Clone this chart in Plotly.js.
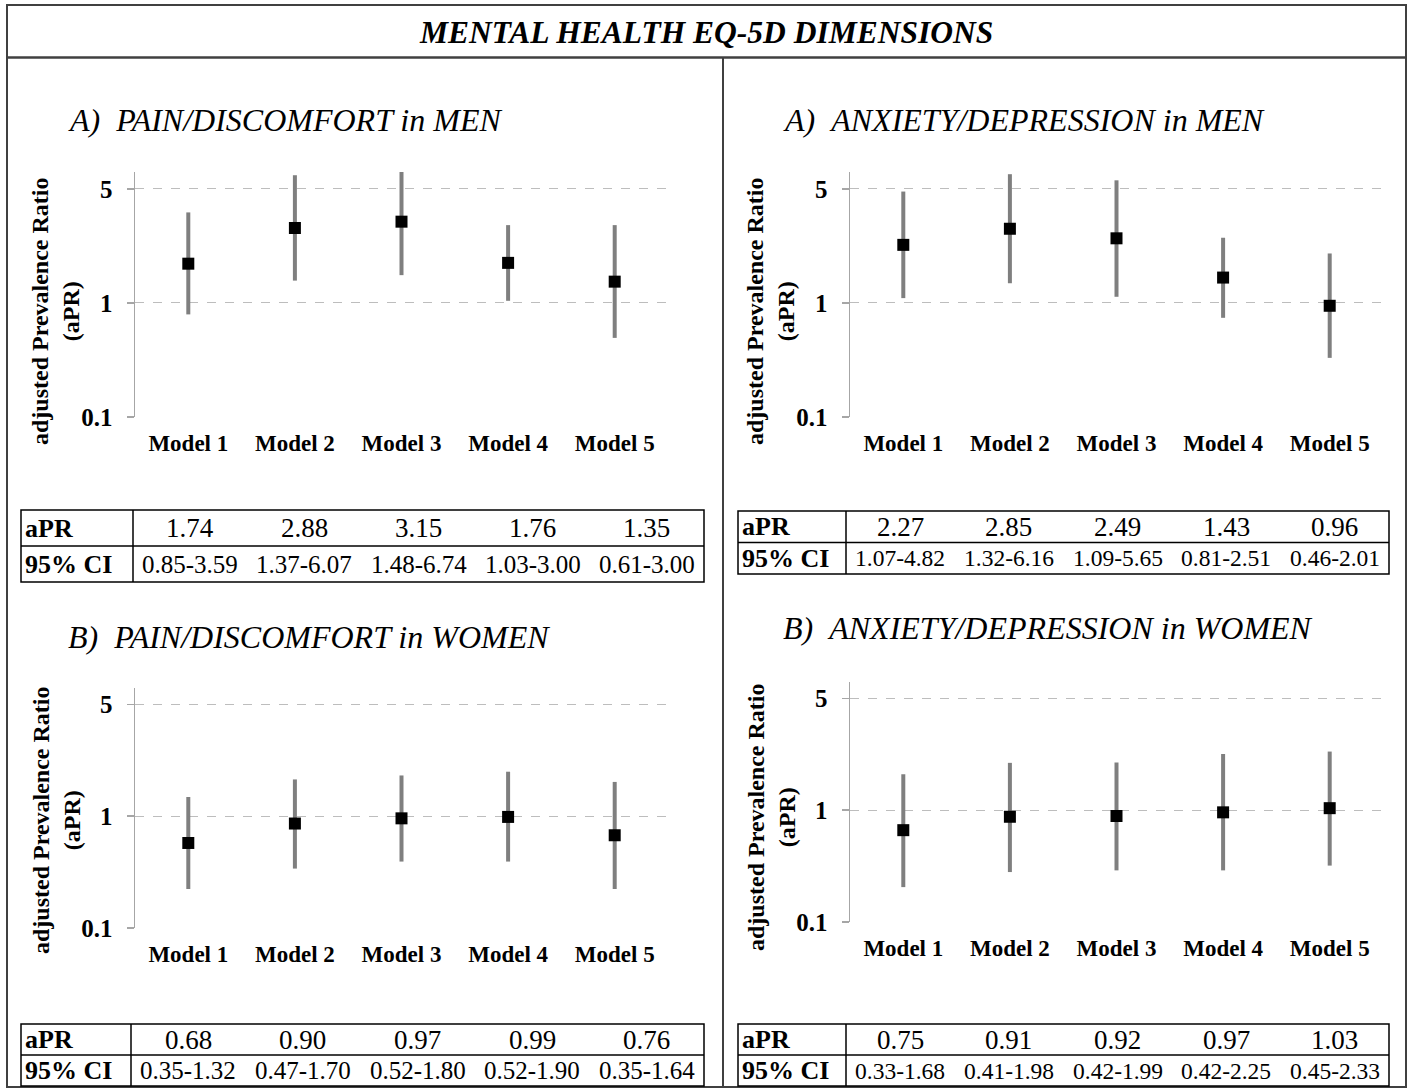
<!DOCTYPE html>
<html>
<head>
<meta charset="utf-8">
<script src="https://cdn.plot.ly/plotly-3.0.1.min.js"></script>
<style>html,body{margin:0;padding:0;background:#fff;}#chart{width:1409px;height:1089px;}</style>
</head>
<body>
<div id="chart"></div>
<script>
// ---------- DATA ----------
const models = ["Model 1", "Model 2", "Model 3", "Model 4", "Model 5"];
const tickVals = [0.2, 1, 5];
const tickText = ["0.1", "1", "5"];

const painMenAPR = [1.74, 2.88, 3.15, 1.76, 1.35];
const painMenLo  = [0.85, 1.37, 1.48, 1.03, 0.61];
const painMenHi  = [3.59, 6.07, 6.74, 3.00, 3.00];

const anxMenAPR = [2.27, 2.85, 2.49, 1.43, 0.96];
const anxMenLo  = [1.07, 1.32, 1.09, 0.81, 0.46];
const anxMenHi  = [4.82, 6.16, 5.65, 2.51, 2.01];

const painWomenAPR = [0.68, 0.90, 0.97, 0.99, 0.76];
const painWomenLo  = [0.35, 0.47, 0.52, 0.52, 0.35];
const painWomenHi  = [1.32, 1.70, 1.80, 1.90, 1.64];

const anxWomenAPR = [0.75, 0.91, 0.92, 0.97, 1.03];
const anxWomenLo  = [0.33, 0.41, 0.42, 0.42, 0.45];
const anxWomenHi  = [1.68, 1.98, 1.99, 2.25, 2.33];

const mainTitle = "MENTAL HEALTH EQ-5D DIMENSIONS";
const subTitles = ["A)\u00a0\u00a0PAIN/DISCOMFORT in MEN", "A)\u00a0\u00a0ANXIETY/DEPRESSION in MEN",
                   "B)\u00a0\u00a0PAIN/DISCOMFORT in WOMEN", "B)\u00a0\u00a0ANXIETY/DEPRESSION in WOMEN"];
const yTitle = "adjusted Prevalence Ratio<br>(aPR)";
const rowLabels = ["aPR", "95% CI"];

// ---------- LAYOUT HELPERS ----------
const W = 1409, H = 1089;
const px = x => x / W;
const py = y => 1 - y / H;
const SERIF = "Liberation Serif, Times New Roman, serif";

const panels = [
  {apr: painMenAPR, lo: painMenLo, hi: painMenHi, sub: subTitles[0],
   xd: [135, 668], yd: [172, 417], subX: 66, subY: 120, tX: 56, tY: 311, ciSize: 25,
   tb: {x0: 21, x1: 704, y0: 510, y1: 582, div: 133}},
  {apr: anxMenAPR, lo: anxMenLo, hi: anxMenHi, sub: subTitles[1],
   xd: [850, 1383], yd: [172, 417], subX: 781, subY: 120, tX: 771, tY: 311, ciSize: 23.5,
   tb: {x0: 738, x1: 1389, y0: 511, y1: 574, div: 846}},
  {apr: painWomenAPR, lo: painWomenLo, hi: painWomenHi, sub: subTitles[2],
   xd: [135, 668], yd: [688, 928], subX: 66, subY: 637, tX: 56, tY: 820, ciSize: 25,
   tb: {x0: 21, x1: 704, y0: 1024, y1: 1086, div: 131}},
  {apr: anxWomenAPR, lo: anxWomenLo, hi: anxWomenHi, sub: subTitles[3],
   xd: [850, 1383], yd: [682, 922], subX: 781, subY: 628, tX: 771, tY: 817, ciSize: 23.5,
   tb: {x0: 738, x1: 1389, y0: 1024, y1: 1086, div: 846}}
];

const traces = [];
const layout = {
  width: W, height: H,
  margin: {l: 0, r: 0, t: 0, b: 0},
  paper_bgcolor: "#ffffff", plot_bgcolor: "rgba(0,0,0,0)",
  showlegend: false,
  font: {family: SERIF, color: "#000"},
  shapes: [], annotations: []
};

const lineShape = (x0, y0, x1, y1, color, width) => ({
  type: "line", xref: "paper", yref: "paper",
  x0: px(x0), y0: py(y0), x1: px(x1), y1: py(y1),
  line: {color: color, width: width}, layer: "above"
});

// Outer frame
layout.shapes.push({type: "rect", xref: "paper", yref: "paper",
  x0: px(7), y0: py(5), x1: px(1406), y1: py(1087),
  line: {color: "#404040", width: 2}});
layout.shapes.push(lineShape(7, 57.5, 1406, 57.5, "#404040", 2.5));
layout.shapes.push(lineShape(723, 57.5, 723, 1087, "#404040", 2));

layout.annotations.push({xref: "paper", yref: "paper", x: px(706), y: py(33),
  text: "<b><i>" + mainTitle + "</i></b>", showarrow: false,
  xanchor: "center", yanchor: "middle", font: {family: SERIF, size: 31.5, color: "#000"}});

panels.forEach((p, i) => {
  const n = i + 1;
  const xa = "xaxis" + (n === 1 ? "" : n), ya = "yaxis" + (n === 1 ? "" : n);
  traces.push({
    type: "scatter", mode: "markers",
    x: models, y: p.apr,
    xaxis: "x" + (n === 1 ? "" : n), yaxis: "y" + (n === 1 ? "" : n),
    marker: {symbol: "square", size: 12, color: "#000"},
    error_y: {type: "data", symmetric: false,
      array: p.hi.map((h, k) => h - p.apr[k]),
      arrayminus: p.lo.map((l, k) => p.apr[k] - l),
      color: "#7f7f7f", thickness: 4, width: 0},
    hoverinfo: "skip"
  });
  layout[xa] = {
    domain: [px(p.xd[0]), px(p.xd[1])],
    anchor: "y" + (n === 1 ? "" : n),
    type: "category", range: [-0.5, 4.5],
    showgrid: false, zeroline: false, showline: false, ticks: "",
    ticklabelstandoff: 10,
    tickfont: {family: SERIF, size: 23, color: "#000", weight: "bold"}
  };
  layout[ya] = {
    domain: [py(p.yd[1]), py(p.yd[0])],
    anchor: "x" + (n === 1 ? "" : n),
    type: "log", range: [-0.7, 0.803],
    tickvals: tickVals, ticktext: tickText,
    showgrid: true, gridcolor: "#bdbdbd", griddash: "dash", gridwidth: 1,
    showline: true, linecolor: "#a6a6a6", linewidth: 1.5,
    ticks: "outside", ticklen: 7, tickcolor: "#a6a6a6", tickwidth: 1.5,
    ticklabelstandoff: 9, zeroline: false,
    tickfont: {family: SERIF, size: 25, color: "#000", weight: "bold"}
  };
  // subtitle
  layout.annotations.push({xref: "paper", yref: "paper", x: px(p.subX), y: py(p.subY),
    text: "<i>" + p.sub + "</i>", showarrow: false, xanchor: "left", yanchor: "middle",
    font: {family: SERIF, size: 32, color: "#000"}});
  // y title
  layout.annotations.push({xref: "paper", yref: "paper", x: px(p.tX), y: py(p.tY),
    text: "<b>" + yTitle + "</b>", showarrow: false, textangle: -90,
    xanchor: "center", yanchor: "middle", align: "center",
    font: {family: SERIF, size: 24, color: "#000"}});
  // table
  const t = p.tb, mid = (t.y0 + t.y1) / 2;
  layout.shapes.push({type: "rect", xref: "paper", yref: "paper",
    x0: px(t.x0), y0: py(t.y0), x1: px(t.x1), y1: py(t.y1),
    line: {color: "#000", width: 1.5}});
  layout.shapes.push(lineShape(t.x0, mid, t.x1, mid, "#000", 1.5));
  layout.shapes.push(lineShape(t.div, t.y0, t.div, t.y1, "#000", 1.5));
  const r1 = (t.y0 + mid) / 2, r2 = (mid + t.y1) / 2;
  layout.annotations.push({xref: "paper", yref: "paper", x: px(t.x0 + 2), y: py(r1),
    text: "<b>" + rowLabels[0] + "</b>", showarrow: false, xanchor: "left", yanchor: "middle",
    font: {family: SERIF, size: 26, color: "#000"}});
  layout.annotations.push({xref: "paper", yref: "paper", x: px(t.x0 + 2), y: py(r2),
    text: "<b>" + rowLabels[1] + "</b>", showarrow: false, xanchor: "left", yanchor: "middle",
    font: {family: SERIF, size: 26, color: "#000"}});
  const cw = (t.x1 - t.div) / models.length;
  models.forEach((m, k) => {
    const cx = t.div + cw * (k + 0.5);
    layout.annotations.push({xref: "paper", yref: "paper", x: px(cx), y: py(r1),
      text: p.apr[k].toFixed(2), showarrow: false, xanchor: "center", yanchor: "middle",
      font: {family: SERIF, size: 27, color: "#000"}});
    layout.annotations.push({xref: "paper", yref: "paper", x: px(cx), y: py(r2),
      text: p.lo[k].toFixed(2) + "-" + p.hi[k].toFixed(2), showarrow: false,
      xanchor: "center", yanchor: "middle",
      font: {family: SERIF, size: p.ciSize, color: "#000"}});
  });
});

Plotly.newPlot("chart", traces, layout, {staticPlot: true, displayModeBar: false});
</script>
</body>
</html>
